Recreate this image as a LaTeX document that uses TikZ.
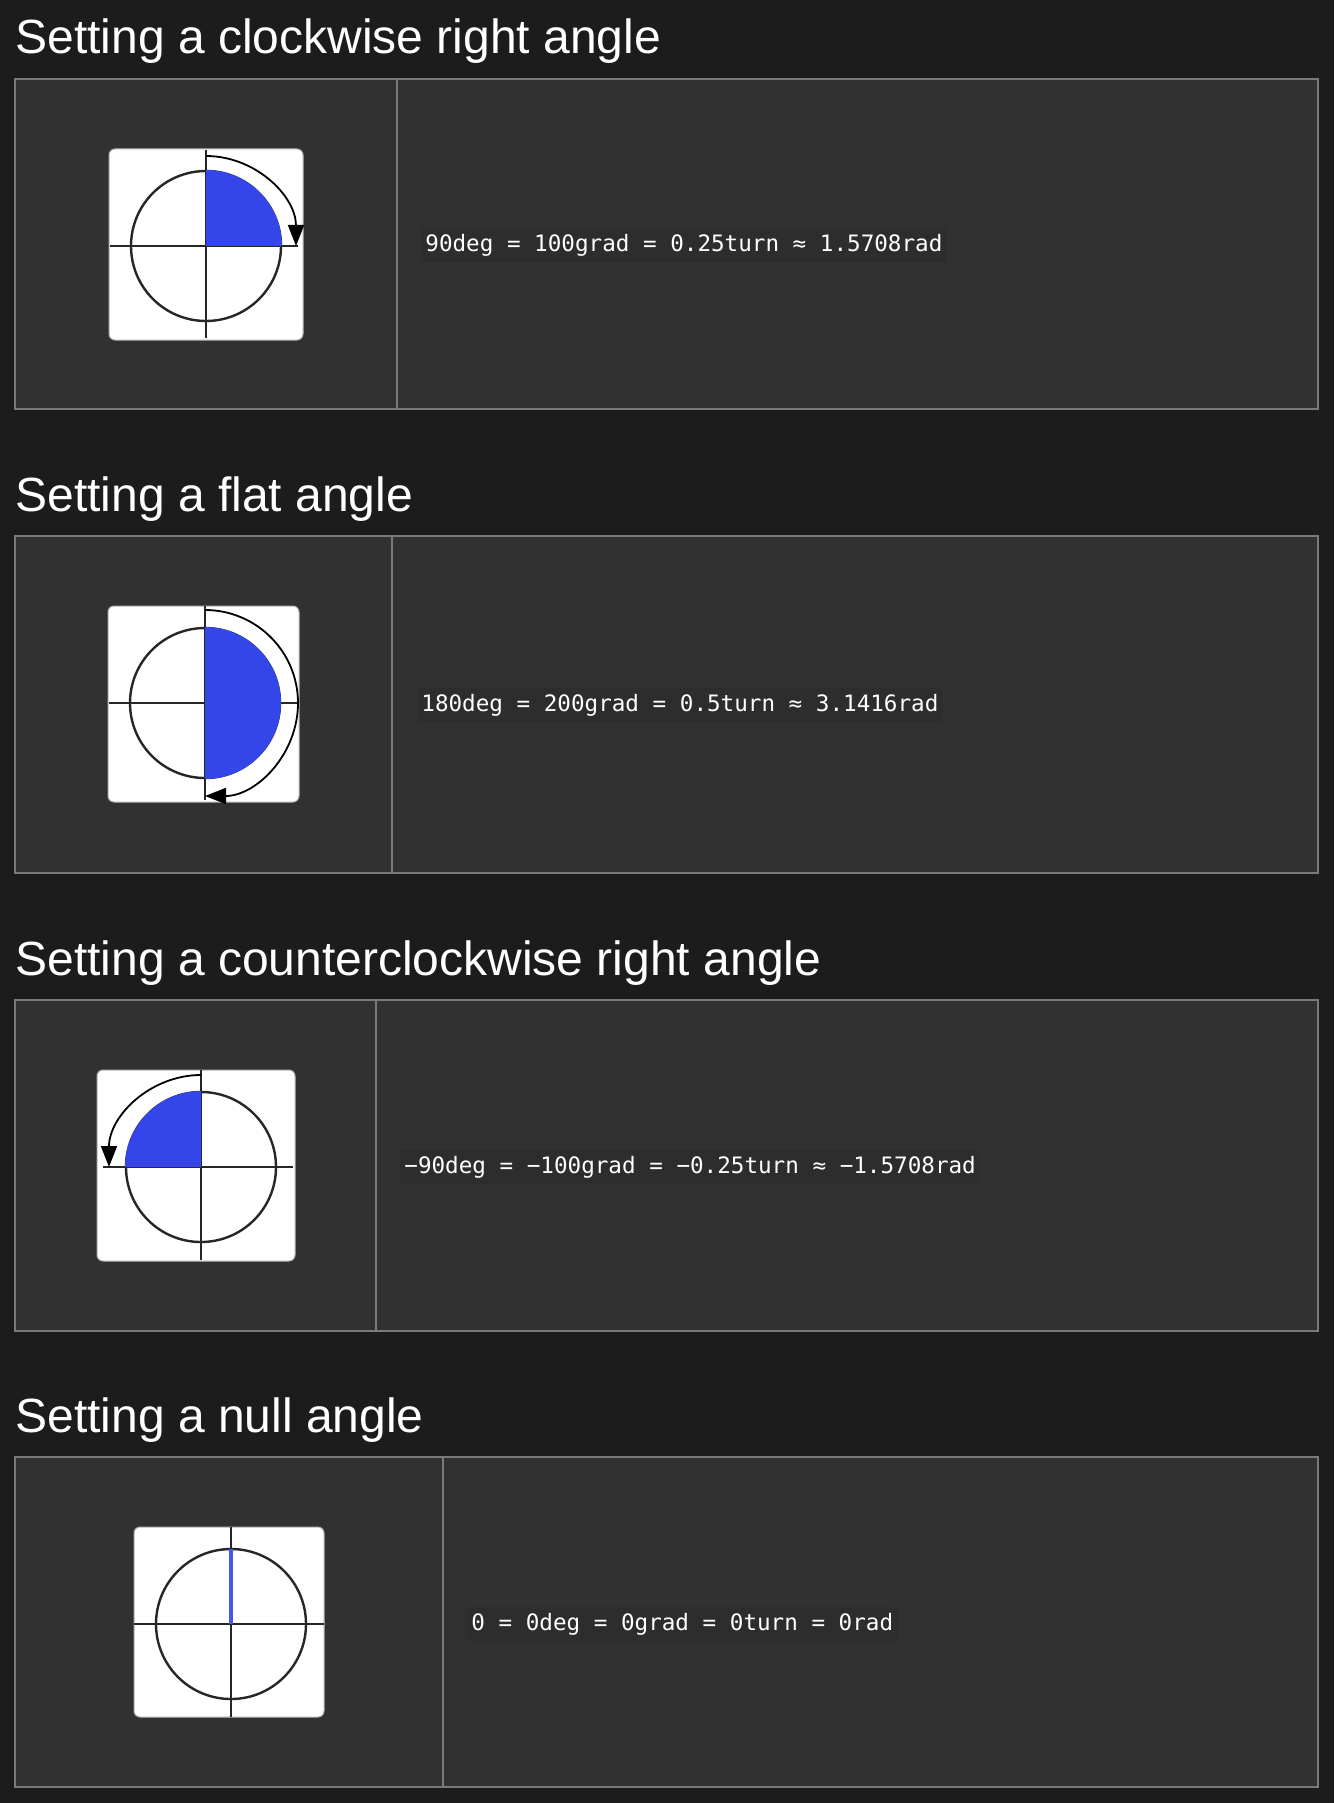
\documentclass[tikz,border=0pt]{standalone}
\usepackage{fontspec}
\setmainfont{Liberation Sans}
\newfontfamily\codefont{DejaVu Sans Mono}
\usetikzlibrary{arrows.meta}

\definecolor{pagebg}{HTML}{1C1C1C}
\definecolor{cellbg}{HTML}{313131}
\definecolor{chipbg}{HTML}{2D2D2D}
\definecolor{rulegray}{HTML}{7A7A7A}
\definecolor{sweepblue}{HTML}{3446EA}

\tikzset{
  titletext/.style={anchor=base west, inner sep=0pt, text=white,
    font=\fontsize{24}{29}\selectfont},
  codechip/.style={anchor=west, fill=chipbg, rounded corners=1.5pt,
    inner xsep=2pt, inner ysep=3pt, text=white,
    font=\codefont\fontsize{11.3}{14}\selectfont},
  tablebox/.style={draw=rulegray, line width=0.6pt, fill=cellbg},
  iconbox/.style={draw=gray!60, fill=white, rounded corners=3pt, line width=0.5pt},
  axisline/.style={draw=black!85, line width=0.8pt},
  ring/.style={draw=black!85, line width=1.2pt},
  sweep/.style={fill=sweepblue},
  turnarrow/.style={draw=black, line width=0.9pt, -{Triangle[length=10.5pt,width=8pt]}}
}

\begin{document}
\begin{tikzpicture}[x=0.5pt,y=0.5pt]
  \fill[pagebg] (0,0) rectangle (1334,-1803);
  \useasboundingbox (0,0) rectangle (1334,-1803);

  % clockwise right angle
  \node[titletext] (title1) at (15,-54) {Setting a clockwise right angle};
  \draw[tablebox] (15,-79) rectangle (1318,-409);
  \draw[tablebox] (397,-79) -- (397,-409);
  \begin{scope}[shift={(206,-246)}]
    \draw[iconbox] (-97,-94) rectangle (97,97);
    \draw[axisline] (-96,0) -- (92,0);
    \draw[axisline] (0,96) -- (0,-92);
    \draw[ring] (0,0) circle[radius=75];
    \fill[sweep] (0,0) -- (0,76) arc[start angle=90, end angle=0, radius=76] -- cycle;
    \draw[turnarrow] (0,90) arc[start angle=90, end angle=0, radius=90];
  \end{scope}
  \node[codechip] (code1) at (421,-245) {90deg = 100grad = 0.25turn ≈ 1.5708rad};

  % flat angle
  \node[titletext] (title2) at (15,-511) {Setting a flat angle};
  \draw[tablebox] (15,-536) rectangle (1318,-873);
  \draw[tablebox] (392,-536) -- (392,-873);
  \begin{scope}[shift={(205,-703)}]
    \draw[iconbox] (-97,-99) rectangle (94,97);
    \draw[axisline] (-96,0) -- (92,0);
    \draw[axisline] (0,97) -- (0,-97);
    \draw[ring] (0,0) circle[radius=75];
    \fill[sweep] (0,0) -- (0,76) arc[start angle=90, end angle=-90, radius=76] -- cycle;
    \draw[turnarrow] (0,93) arc[start angle=90, end angle=-90, radius=93];
  \end{scope}
  \node[codechip] (code2) at (417,-705) {180deg = 200grad = 0.5turn ≈ 3.1416rad};

  % counterclockwise right angle
  \node[titletext] (title3) at (15,-975) {Setting a counterclockwise right angle};
  \draw[tablebox] (15,-1000) rectangle (1318,-1331);
  \draw[tablebox] (376,-1000) -- (376,-1331);
  \begin{scope}[shift={(201,-1167)}]
    \draw[iconbox] (-104,-94) rectangle (94,97);
    \draw[axisline] (-98,0) -- (92,0);
    \draw[axisline] (0,97) -- (0,-93);
    \draw[ring] (0,0) circle[radius=75];
    \fill[sweep] (0,0) -- (0,76) arc[start angle=90, end angle=180, radius=76] -- cycle;
    \draw[turnarrow] (0,92) arc[start angle=90, end angle=180, radius=92];
  \end{scope}
  \node[codechip] (code3) at (400,-1167) {−90deg = −100grad = −0.25turn ≈ −1.5708rad};

  % null angle
  \node[titletext] (title4) at (15,-1432) {Setting a null angle};
  \draw[tablebox] (15,-1457) rectangle (1318,-1787);
  \draw[tablebox] (443,-1457) -- (443,-1787);
  \begin{scope}[shift={(231,-1624)}]
    \draw[iconbox] (-97,-93) rectangle (93,97);
    \draw[axisline] (-97,0) -- (93,0);
    \draw[axisline] (0,97) -- (0,-93);
    \draw[ring] (0,0) circle[radius=75];
    \draw[sweepblue!90!white, line width=2pt] (0,0) -- (0,75);
  \end{scope}
  \node[codechip] (code4) at (467,-1624) {0 = 0deg = 0grad = 0turn = 0rad};
\end{tikzpicture}
\end{document}
